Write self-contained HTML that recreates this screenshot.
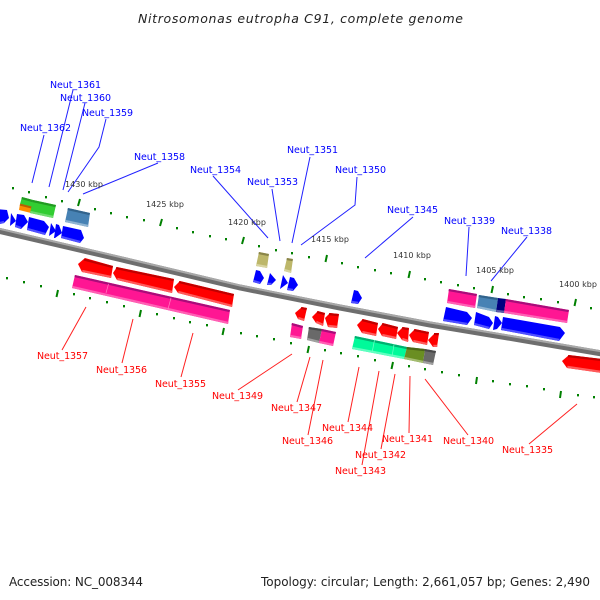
<!DOCTYPE html>
<html><head><meta charset="utf-8"><style>
html,body{margin:0;padding:0;background:#fff}
svg{display:block}
text{font-family:"DejaVu Sans","Liberation Sans",sans-serif}
.b text{fill:#0000ff;font-size:9.5px}
.t text{fill:#ff0000;font-size:9.5px}
.k text{fill:#333;font-size:8px}
.d,.l{fill:none}
.d{stroke-width:2.2;transform:translateY(-.4px)}
.l{stroke-width:2.2;transform:translateY(.4px)}
.R polygon{fill:#f00}.R .d{stroke:#c00000}.R .l{stroke:#ff5a5a}
.B polygon{fill:#00f}.B .l{stroke:#5050ff}
.P polygon{fill:#ff1493}.P .d{stroke:#a8107a}.P .l{stroke:#ff60b4}
.S polygon{fill:#4682b4}.S .d{stroke:#33648c}.S .l{stroke:#8fb4d2}
.N polygon{fill:#000080}.N .d{stroke:#000060}.N .l{stroke:#5a5aa8}
.G polygon{fill:#32cd32}.G .d{stroke:#249a24}.G .l{stroke:#70dc70}
.O polygon{fill:#ff8c00}.O .d{stroke:#b86000}.O .l{stroke:#ffb860}
.K polygon{fill:#bdb76b}.K .d{stroke:#8a8548}.K .l{stroke:#d8d4a0}
.Y polygon{fill:#696969}.Y .d{stroke:#4a4a4a}.Y .l{stroke:#a0a0a0}
.M polygon{fill:#00fa9a}.M .d{stroke:#00b070}.M .l{stroke:#60ffc0}
.V polygon{fill:#6b8e23}.V .d{stroke:#4c6618}.V .l{stroke:#a4bc70}
</style></head><body>
<svg xmlns="http://www.w3.org/2000/svg" width="600" height="600" viewBox="0 0 600 600">
<defs><filter id="s" x="-5%" y="-5%" width="110%" height="110%"><feGaussianBlur stdDeviation="0.35"/></filter></defs>

<text x="138" y="23" font-size="12.5" font-style="italic" fill="#222" textLength="325" lengthAdjust="spacing">Nitrosomonas eutropha C91, complete genome</text>

<!-- backbone -->
<g filter="url(#s)" fill="none">
<path d="M-2 230.5L120 259L240 287.5L340 307.5L430 324.5L520 339.5L602 353.5" stroke="#6e6e6e" stroke-width="6"/>
<path d="M-2 228.5L120 257L240 285.5L340 305.5L430 322.5L520 337.5L602 351.5" stroke="#a8a8a8" stroke-width="2"/>
</g>

<!-- ticks -->
<g stroke="#008000" stroke-width="2" fill="none">
<path d="M13 187v2.4M29 191v2.4M46 196v2.4M62 200v2.4M95 208v2.4M111 212v2.4M127 216v2.4M144 219v2.4M177 227v2.4M193 231v2.4M210 235v2.4M226 238v2.4M259 245v2.4M276 249v2.4M292 252v2.4M309 256v2.4M342 262v2.4M358 266v2.4M375 269v2.4M391 272v2.4M425 278v2.4M441 281v2.4M458 284v2.4M474 287v2.4M508 293v2.4M524 296v2.4M541 298v2.4M558 301v2.4M591 307v2.4"/>
<path d="M7 277v2.4M24 281v2.4M41 285v2.4M74 293v2.4M90 297v2.4M107 301v2.4M124 305v2.4M157 313v2.4M174 317v2.4M190 321v2.4M207 324v2.4M241 332v2.4M257 335v2.4M274 338v2.4M291 342v2.4M325 349v2.4M341 352v2.4M358 355v2.4M375 359v2.4M409 365v2.4M425 368v2.4M442 371v2.4M459 374v2.4M493 380v2.4M510 383v2.4M527 385v2.4M544 388v2.4M578 394v2.4M594 396v2.4"/>
<path d="M80 199l-2 7M162 219l-2 7M244 237l-2 7M327 255l-1.5 7M410 271l-1.5 7M493 286l-1.5 7M576 299l-1.5 7"/>
<path d="M58 290l-1.5 7M141 310l-1.5 7M224 328l-1.5 7M309 346l-1.5 7M393 362l-1.5 7M477 377l-1 7M561 391l-1 7"/>
</g>

<!-- genes -->
<g filter="url(#s)">
<g class="G"><polygon points="22,197 33,200 32,207 20,204"/><path class="d" d="M21.7,198.5L32.7,201.5"/></g>
<g class="O"><polygon points="20,204 32,207 31,213 19,210"/><path class="d" d="M20,205L32,208" style="stroke-width:2"/></g>
<g class="G"><polygon points="33,200 56,205 53,218 30,213"/><path class="d" d="M32.7,201.5L55.7,206.5"/><path class="l" d="M30.3,211.5L53.3,216.5"/></g>
<g class="S"><polygon points="68,208 90,213 88,227 65,222"/><path class="d" d="M67.7,209.5L89.7,214.5"/><path class="l" d="M65.3,220.5L88.3,225.5"/></g>

<g class="B"><polygon points="-4,209 7,210 9,218 4,223 -4,225"/><path class="l" d="M-4,223.5L4,221.5"/></g>
<g class="B"><polygon points="11,213 16,221 10,226"/></g>
<g class="B"><polygon points="17,214 24,215 28,222 21,229 15,227"/><path class="l" d="M15.3,225.5L21,227.5"/></g>
<g class="B"><polygon points="29,217 44,221 49,227 45,235 27,230"/><path class="l" d="M27.3,228.5L45.3,233.5"/></g>
<g class="B"><polygon points="51,223 56,231 49,236"/></g>
<g class="B"><polygon points="56,224 59,225 62,233 55,238 54,238"/></g>
<g class="B"><polygon points="63,226 81,230 84,238 80,243 61,238"/><path class="l" d="M61.3,236.5L80.3,241.5"/></g>

<g class="R"><polygon points="78,264 85,258 113,266 111,278 82,272"/><path class="d" d="M84,260L112.7,267.5"/><path class="l" d="M82.3,270.5L111.3,276.5"/></g>
<g class="R"><polygon points="113,273 117,267 174,279 172,293 117,280"/><path class="d" d="M116,268.5L173.7,280.5"/><path class="l" d="M117.3,278.5L172.3,291.5"/></g>
<g class="R"><polygon points="174,287 180,281 234,294 232,307 178,293"/><path class="d" d="M179,282.5L233.7,295.5"/><path class="l" d="M178.3,291.5L232.3,305.5"/></g>
<g class="P"><polygon points="75,275 230,310 228,324 72,288"/><path class="d" d="M74.7,276.5L229.7,311.5"/><path class="l" d="M72.3,286.5L228.3,322.5"/><path d="M108.5,284L106,293M171,298L168,309" stroke="#ff80c0" stroke-width="0.7" fill="none"/></g>

<g class="K"><polygon points="259,252 269,254 267,268 256,266"/><path class="d" d="M258.7,253.5L268.7,255.5"/><path class="l" d="M256.3,264.5L267.3,266.5"/></g>
<g class="K"><polygon points="287,258 293,259 291,273 284,271"/><path class="d" d="M286.7,259.5L292.7,260.5"/><path class="l" d="M284.3,269.5L291.3,271.5"/></g>
<g class="B"><polygon points="256,270 260,271 264,278 260,284 253,282"/><path class="l" d="M253.3,280.5L260,282.5"/></g>
<g class="B"><polygon points="270,273 276,280 271,285 267,285"/><path class="l" d="M267.3,283.5L271.5,283.5"/></g>
<g class="B"><polygon points="283,275 288,283 280,289"/></g>
<g class="B"><polygon points="290,277 294,278 298,285 293,291 287,290"/><path class="l" d="M287.3,288.5L293,289.5"/></g>
<g class="B"><polygon points="354,290 358,291 362,298 358,304 351,303"/><path class="l" d="M351.3,301.5L358,302.5"/></g>

<g class="R"><polygon points="295,313 302,307 307,308 304,321 298,319"/><path class="d" d="M301,308.5L306.7,309.5"/><path class="l" d="M298.3,317.5L304.3,319.5"/></g>
<g class="R"><polygon points="312,317 318,311 325,313 323,326 316,323"/><path class="d" d="M317,312.5L324.7,314.5"/><path class="l" d="M316.3,321.5L323.3,324.5"/></g>
<g class="R"><polygon points="325,318 330,313 339,314 337,328 328,327"/><path class="d" d="M329,314.5L338.7,315.5"/><path class="l" d="M328.3,325.5L337.3,326.5"/></g>
<g class="R"><polygon points="357,325 363,319 378,323 376,336 362,333"/><path class="d" d="M362,320.5L377.7,324.5"/><path class="l" d="M362.3,331.5L376.3,334.5"/></g>
<g class="R"><polygon points="378,329 383,323 398,327 396,339 382,336"/><path class="d" d="M382,324.5L397.7,328.5"/><path class="l" d="M382.3,334.5L396.3,337.5"/></g>
<g class="R"><polygon points="397,333 403,327 409,328 408,342 402,340"/><path class="d" d="M402,328.5L408.7,329.5"/><path class="l" d="M402.3,338.5L408.3,340.5"/></g>
<g class="R"><polygon points="409,335 415,329 429,332 427,345 413,342"/><path class="d" d="M414,330.5L428.7,333.5"/><path class="l" d="M413.3,340.5L427.3,343.5"/></g>
<g class="R"><polygon points="428,340 435,333 439,333 437,347 433,347"/><path class="d" d="M434,334.5L438.7,334.5"/><path class="l" d="M433.3,345.5L437.3,345.5"/></g>

<g class="P"><polygon points="292,323 303,326 301,339 290,337"/><path class="d" d="M291.7,324.5L302.7,327.5"/><path class="l" d="M290.3,335.5L301.3,337.5"/></g>
<g class="Y"><polygon points="309,327 322,329 319,343 307,340"/><path class="d" d="M308.7,328.5L321.7,330.5"/><path class="l" d="M307.3,338.5L319.3,341.5"/></g>
<g class="P"><polygon points="322,329 336,332 333,346 319,343"/><path class="d" d="M321.7,330.5L335.7,333.5"/><path class="l" d="M319.3,341.5L333.3,344.5"/></g>
<g class="M"><polygon points="355,336 407,347 404,359 352,349"/><path class="d" d="M354.7,337.5L406.7,348.5"/><path class="l" d="M352.3,347.5L404.3,357.5"/><path d="M374.5,340L372,353M394,344.5L392,357" stroke="#70ffc8" stroke-width="0.7" fill="none"/></g>
<g class="V"><polygon points="407,347 425,349 423,363 404,359"/><path class="d" d="M406.7,348.5L424.7,350.5"/><path class="l" d="M404.3,357.5L423.3,361.5"/></g>
<g class="Y"><polygon points="425,349 436,351 433,365 423,363"/><path class="d" d="M424.7,350.5L435.7,352.5"/><path class="l" d="M423.3,361.5L433.3,363.5"/></g>

<g class="P"><polygon points="449,289 477,294 475,308 447,303"/><path class="d" d="M448.7,290.5L476.7,295.5"/><path class="l" d="M447.3,301.5L475.3,306.5"/></g>
<g class="S"><polygon points="479,295 498,298 496,312 477,308"/><path class="d" d="M478.7,296.5L497.7,299.5"/><path class="l" d="M477.3,306.5L496.3,310.5"/></g>
<g class="N"><polygon points="498,298 506,299 504,313 496,312"/><path class="l" d="M496.3,310.5L504.3,311.5"/></g>
<g class="P"><polygon points="506,299 569,310 567,323 504,313"/><path class="d" d="M505.7,300.5L568.7,311.5"/><path class="l" d="M504.3,311.5L567.3,321.5"/></g>
<g class="B"><polygon points="446,307 467,312 472,318 467,325 443,321"/><path class="l" d="M443.3,319.5L467.3,323.5"/></g>
<g class="B"><polygon points="476,312 489,317 493,323 489,329 474,325"/><path class="l" d="M474.3,323.5L489.3,327.5"/></g>
<g class="B"><polygon points="495,316 498,317 502,323 497,329 493,330"/></g>
<g class="B"><polygon points="503,317 560,327 565,333 559,341 501,330"/><path class="l" d="M501.3,328.5L559.3,339.5"/></g>
<g class="R"><polygon points="562,361 569,355 602,359 602,373 567,368"/><path class="d" d="M568,356.5L602,360.5"/><path class="l" d="M567.3,366.5L602,371.5"/></g>
</g>

<!-- blue leader lines -->
<g stroke="#2020ff" stroke-width="1" fill="none">
<path d="M44 135L32 183M73 90L49 187M85 103L63 190M106 119L99 147L68 192M158 163L83 194"/>
<path d="M213 176L268 238M272 189L280 241M310 157L292 243M357 177L355 205L301 245M413 217L365 258M469 227L466 276M527 237L491 281"/>
</g>
<!-- red leader lines -->
<g stroke="#ff2020" stroke-width="1" fill="none">
<path d="M62 350L86 307M122 363L133 319M181 377L193 333M238 390L292 354M297 402L310 357M308 435L323 360M348 422L359 367M362 465L379 371M381 449L395 374M409 433L410 376M468 435L425 379M529 444L577 404"/>
</g>

<g class="k">
<text x="65" y="187" textLength="38">1430 kbp</text>
<text x="146" y="207" textLength="38">1425 kbp</text>
<text x="228" y="225" textLength="38">1420 kbp</text>
<text x="311" y="242" textLength="38">1415 kbp</text>
<text x="393" y="258" textLength="38">1410 kbp</text>
<text x="476" y="273" textLength="38">1405 kbp</text>
<text x="559" y="287" textLength="38">1400 kbp</text>
</g>

<g class="b">
<text x="50" y="88" textLength="51">Neut_1361</text>
<text x="60" y="101" textLength="51">Neut_1360</text>
<text x="82" y="116" textLength="51">Neut_1359</text>
<text x="20" y="131" textLength="51">Neut_1362</text>
<text x="134" y="160" textLength="51">Neut_1358</text>
<text x="190" y="173" textLength="51">Neut_1354</text>
<text x="247" y="185" textLength="51">Neut_1353</text>
<text x="287" y="153" textLength="51">Neut_1351</text>
<text x="335" y="173" textLength="51">Neut_1350</text>
<text x="387" y="213" textLength="51">Neut_1345</text>
<text x="444" y="224" textLength="51">Neut_1339</text>
<text x="501" y="234" textLength="51">Neut_1338</text>
</g>

<g class="t">
<text x="37" y="359" textLength="51">Neut_1357</text>
<text x="96" y="373" textLength="51">Neut_1356</text>
<text x="155" y="387" textLength="51">Neut_1355</text>
<text x="212" y="399" textLength="51">Neut_1349</text>
<text x="271" y="411" textLength="51">Neut_1347</text>
<text x="282" y="444" textLength="51">Neut_1346</text>
<text x="322" y="431" textLength="51">Neut_1344</text>
<text x="355" y="458" textLength="51">Neut_1342</text>
<text x="335" y="474" textLength="51">Neut_1343</text>
<text x="382" y="442" textLength="51">Neut_1341</text>
<text x="443" y="444" textLength="51">Neut_1340</text>
<text x="502" y="453" textLength="51">Neut_1335</text>
</g>

<text x="9" y="586" font-size="12" fill="#222" textLength="134">Accession: NC_008344</text>
<text x="261" y="586" font-size="12" fill="#222" textLength="329">Topology: circular; Length: 2,661,057 bp; Genes: 2,490</text>
</svg>
</body></html>
